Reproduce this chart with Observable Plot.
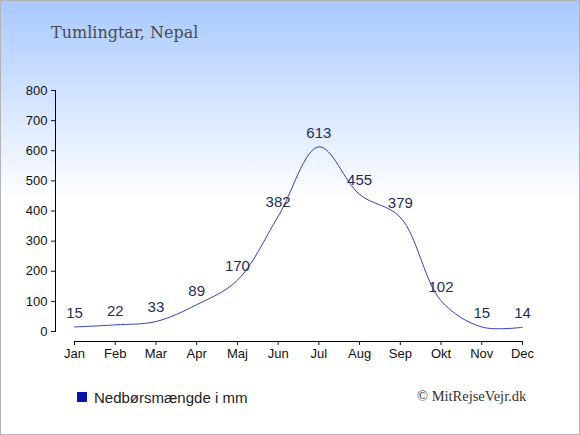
<!DOCTYPE html>
<html>
<head>
<meta charset="utf-8">
<script src="https://cdn.jsdelivr.net/npm/d3@7"></script>
<script src="https://cdn.jsdelivr.net/npm/@observablehq/plot@0.6"></script>
<style>
  html, body { margin: 0; padding: 0; }
  #wrap {
    position: relative; width: 580px; height: 435px; box-sizing: border-box;
    border: 1px solid #b4b4b4;
    background: linear-gradient(to bottom, #a9c9ff 0px, #ffffff 200px, #ffffff 435px);
    overflow: hidden;
  }
  #title { position: absolute; left: 50px; top: 22px; font-family: "DejaVu Serif", serif; font-size: 16px; color: #4a4a52; }
  #chart { position: absolute; left: -1px; top: -1px; width: 580px; }
  #chart svg { max-width: none; }
  #legend { position: absolute; left: 76px; top: 387px; font-family: "Liberation Sans", Arial, sans-serif; font-size: 15px; color: #222; display: flex; align-items: center; height: 18px; }
  #legend .sw { width: 10px; height: 10px; background: #0a14a8; margin-right: 7px; }
  #copy { position: absolute; left: 416px; top: 387px; font-family: "Liberation Serif", serif; font-size: 14.5px; color: #333; }
</style>
</head>
<body>
<div id="wrap">
  <div id="chart"></div>
  <div id="title">Tumlingtar, Nepal</div>
  <div id="legend"><div class="sw"></div><span>Nedbørsmængde i mm</span></div>
  <div id="copy">© MitRejseVejr.dk</div>
</div>
<script>
const months = ["Jan","Feb","Mar","Apr","Maj","Jun","Jul","Aug","Sep","Okt","Nov","Dec"];
const rainfall = [15, 22, 33, 89, 170, 382, 613, 455, 379, 102, 15, 14];
const yTicks = [0, 100, 200, 300, 400, 500, 600, 700, 800];

const data = months.map((m, i) => ({month: m, value: rainfall[i]}));

const chart = Plot.plot({
  width: 580,
  height: 370,
  marginTop: 90,
  marginBottom: 39,
  marginLeft: 55,
  marginRight: 58,
  style: {background: "transparent", fontFamily: "Liberation Sans, Arial, sans-serif", fontSize: "13px", color: "#111"},
  x: {type: "point", domain: months, padding: 0, round: false, range: [74, 522], label: null},
  y: {domain: [0, 800], label: null},
  marks: [
    Plot.frame({anchor: "left", stroke: "#000"}),
    Plot.axisY({ticks: yTicks, tickSize: 4, tickPadding: 4, fontSize: 13, label: null, fill: "#111"}),
    Plot.ruleY([0], {x1: () => months[0], x2: () => months[months.length - 1], dy: 10, stroke: "#000"}),
    Plot.axisX({tickSize: 4, tickPadding: 3, dy: 10, fontSize: 13, label: null, fill: "#111"}),
    Plot.line(data, {x: "month", y: "value", curve: "catmull-rom", stroke: "#3040c8", strokeWidth: 1}),
    Plot.text(data, {x: "month", y: "value", text: d => String(d.value), dy: -14, fontSize: 15, fill: "#1f2d5c"})
  ]
});
document.getElementById("chart").appendChild(chart);
</script>
</body>
</html>
